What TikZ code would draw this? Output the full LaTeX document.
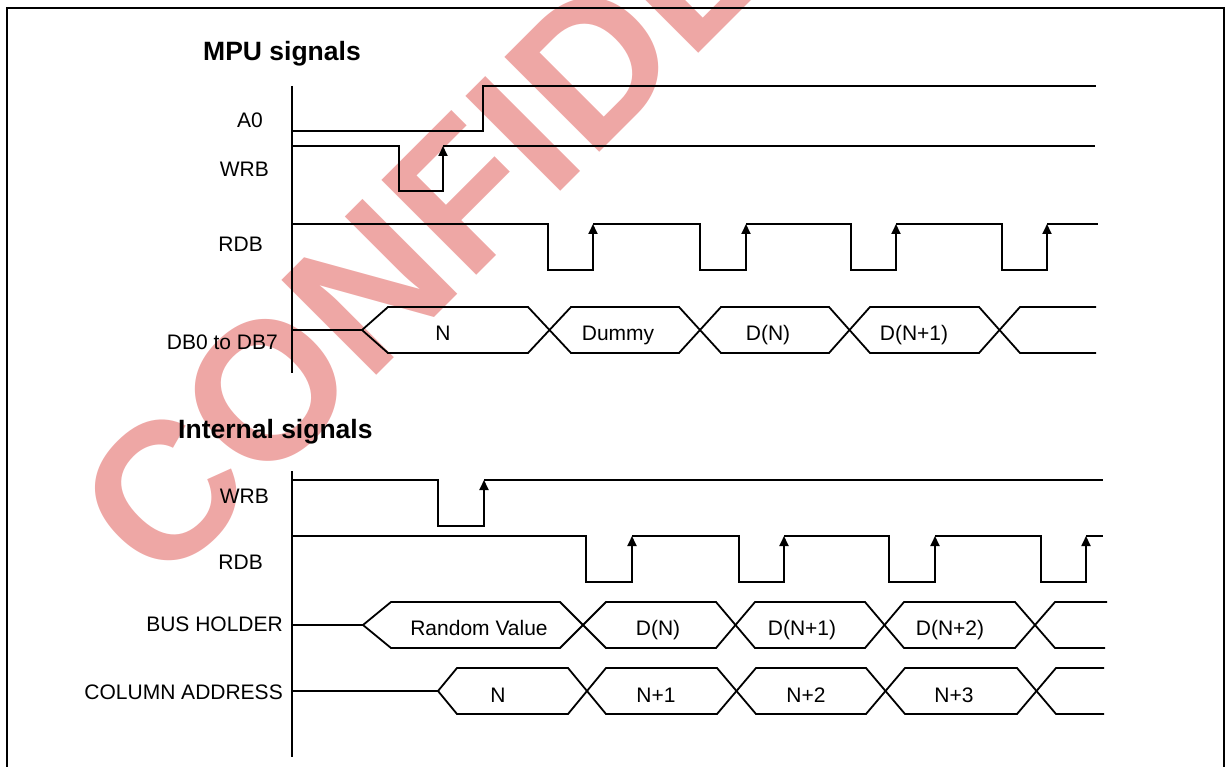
\documentclass[tikz,border=0pt]{standalone}
\usepackage{fontspec}
\setmainfont{Liberation Sans}
\usetikzlibrary{arrows.meta}
\definecolor{wm}{RGB}{238,167,165}
\begin{document}
\begin{tikzpicture}[x=1pt,y=-1pt,
  sig/.style={line width=1.8pt, line join=miter},
  edge/.style={line width=1.8pt, line cap=rect, -{Triangle[length=10pt,width=9pt]}},
  lbl/.style={anchor=base east, inner sep=0, font=\fontsize{21}{24}\selectfont},
  val/.style={anchor=base, inner sep=0, font=\fontsize{21}{24}\selectfont},
  head/.style={anchor=base west, inner sep=0, font=\fontsize{26.5}{30}\selectfont\bfseries}]
\useasboundingbox (0,0) rectangle (1226,767);
\clip (0,0) rectangle (1226,767);
% watermark
\node[rotate=45, anchor=base west, inner sep=0, text=wm,
      font=\fontsize{195}{195}\selectfont\bfseries] (wmark) at (161,591) {CONFIDENTIAL};
% frame
\draw[line width=1.8pt] (7,790) -- (7,8) -- (1224,8) -- (1224,790);
% headings
\node[head] (hmpu) at (203,61) {MPU signals};
\node[head] (hint) at (178,438) {Internal signals};
% axes
\draw[sig] (292,86) -- (292,373);
\draw[sig] (292,471) -- (292,757);
% labels
\node[lbl] (lA0) at (263,128) {A0};
\node[lbl] (lWRB) at (269,177) {WRB};
\node[lbl] (lRDB) at (263,252) {RDB};
\node[lbl] (lDB) at (278,349) {DB0 to DB7};
\node[lbl] (lWRBi) at (269,503) {WRB};
\node[lbl] (lRDBi) at (263,569) {RDB};
\node[lbl] (lBUS) at (283,631) {BUS HOLDER};
\node[lbl] (lCOL) at (283,699) {COLUMN ADDRESS};
% A0
\draw[sig] (292,131) -- (483,131) -- (483,86) -- (1096,86);
% WRB (MPU)
\draw[sig] (292,146) -- (399,146) -- (399,191) -- (443,191);
\draw[edge] (443,191) -- (443,146);
\draw[sig] (443,146) -- (1095,146);
% RDB (MPU)
\foreach \p/\f/\r in {292/548/593, 593/700/746, 746/851/896, 896/1002/1047}{
  \draw[sig] (\p,224) -- (\f,224) -- (\f,270) -- (\r,270);
  \draw[edge] (\r,270) -- (\r,224);
}
\draw[sig] (1047,224) -- (1098,224);
% DB0 to DB7
\draw[sig] (292,330) -- (362,330);
\draw[sig] (362,330) -- (388,307) -- (528,307) -- (571,353) -- (679,353) -- (721,307) -- (829,307) -- (870,353) -- (979,353) -- (1020,307) -- (1096,307);
\draw[sig] (362,330) -- (388,353) -- (528,353) -- (571,307) -- (679,307) -- (721,353) -- (829,353) -- (870,307) -- (979,307) -- (1020,353) -- (1096,353);
\node[val] (vN) at (443,340) {N};
\node[val] (vDummy) at (618,340) {Dummy};
\node[val] (vDN) at (768,340) {D(N)};
\node[val] (vDN1) at (914,340) {D(N+1)};
% WRB internal
\draw[sig] (292,480) -- (438,480) -- (438,526) -- (484,526);
\draw[edge] (484,526) -- (484,480);
\draw[sig] (484,480) -- (1103,480);
% RDB internal
\foreach \p/\f/\r in {292/586/632, 632/739/784, 784/889/935, 935/1041/1086}{
  \draw[sig] (\p,536) -- (\f,536) -- (\f,582) -- (\r,582);
  \draw[edge] (\r,582) -- (\r,536);
}
\draw[sig] (1086,536) -- (1103,536);
% BUS HOLDER
\draw[sig] (292,625) -- (363,625);
\draw[sig] (363,625) -- (391,602) -- (560,602) -- (606,648) -- (716,648) -- (755,602) -- (865,602) -- (904,648) -- (1015,648) -- (1055,602) -- (1107,602);
\draw[sig] (363,625) -- (391,648) -- (560,648) -- (606,602) -- (716,602) -- (755,648) -- (865,648) -- (904,602) -- (1015,602) -- (1055,648) -- (1105,648);
\node[val] (vRand) at (479,635) {Random Value};
\node[val] (vBDN) at (658,635) {D(N)};
\node[val] (vBDN1) at (802,635) {D(N+1)};
\node[val] (vBDN2) at (950,635) {D(N+2)};
% COLUMN ADDRESS
\draw[sig] (292,691) -- (438,691);
\draw[sig] (438,691) -- (457,668) -- (568,668) -- (606,714) -- (717,714) -- (756,668) -- (866,668) -- (905,714) -- (1017,714) -- (1056,668) -- (1104,668);
\draw[sig] (438,691) -- (457,714) -- (568,714) -- (606,668) -- (717,668) -- (756,714) -- (866,714) -- (905,668) -- (1017,668) -- (1056,714) -- (1104,714);
\node[val] (cN) at (498,702) {N};
\node[val] (cN1) at (656,702) {N+1};
\node[val] (cN2) at (806,702) {N+2};
\node[val] (cN3) at (954,702) {N+3};
\end{tikzpicture}
\end{document}
